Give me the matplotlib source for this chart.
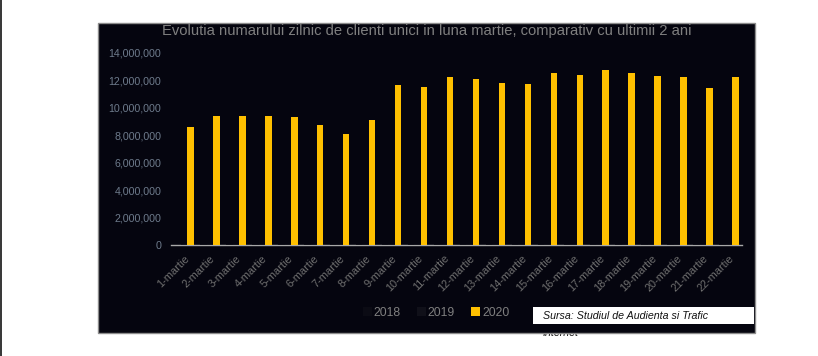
import numpy as np
import matplotlib
matplotlib.use("Agg")
import matplotlib.pyplot as plt
from matplotlib.patches import Rectangle, Patch

plt.rcParams['font.family'] = ['Liberation Sans', 'DejaVu Sans']

categories = [f"{i}-martie" for i in range(1, 23)]
years = ["2018", "2019", "2020"]
v2018 = [np.nan] + [0] * 21
v2019 = [0] * 22
v2020 = [8.58e6, 9.41e6, 9.41e6, 9.41e6, 9.34e6, 8.75e6, 8.1e6, 9.12e6,
         11.67e6, 11.52e6, 12.25e6, 12.1e6, 11.82e6, 11.74e6, 12.55e6, 12.4e6,
         12.76e6, 12.55e6, 12.33e6, 12.25e6, 11.45e6, 12.25e6]
title = "Evolutia numarului zilnic de clienti unici in luna martie, comparativ cu ultimii 2 ani"
source = "Sursa: Studiul de Audienta si Trafic"
source2 = "Internet"

W, H = 818, 356
fig = plt.figure(figsize=(W / 100, H / 100), dpi=100)
fig.patch.set_facecolor('white')

def fx(px):
    return px / W

def fy(py):
    return 1 - py / H

panel_col = '#05050f'
# dark panel
fig.patches.append(Rectangle((fx(98), fy(333)), fx(755) - fx(98), fy(23) - fy(333),
                             transform=fig.transFigure, facecolor=panel_col,
                             edgecolor='#8c8c8c', linewidth=1.0, zorder=-2))
# left page edge
fig.patches.append(Rectangle((0, 0), fx(2), 1, transform=fig.transFigure,
                             facecolor='#3a3a3a', edgecolor='none', zorder=-2))
# source box
fig.patches.append(Rectangle((fx(533), fy(324)), fx(754) - fx(533), fy(307) - fy(324),
                             transform=fig.transFigure, facecolor='white',
                             edgecolor='none', zorder=-1))
fig.text(fx(543), fy(316), source, fontsize=7.7, style='italic', color='#111111',
         va='center', ha='left', zorder=1)
fig.text(fx(543), fy(333), source2, fontsize=7.7, style='italic', color='#111111',
         va='center', ha='left', zorder=-3)

ax = fig.add_axes([fx(171), fy(245), fx(742) - fx(171), fy(53) - fy(245)])
ax.set_facecolor('none')
x = np.arange(len(categories))
bw = 0.25
c2018 = '#0b0b14'
c2019 = '#101019'
c2020 = '#ffc000'
ax.bar(x - bw, v2018, bw, color=c2018, edgecolor=c2018, linewidth=1.2, zorder=3, label=years[0])
ax.bar(x, v2019, bw, color=c2019, edgecolor=c2019, linewidth=1.2, zorder=3, label=years[1])
ax.bar(x + bw, v2020, bw, color=c2020, linewidth=0, zorder=3, label=years[2])

ax.set_xlim(-0.5, len(categories) - 0.5)
ax.set_ylim(0, 14e6)
ax.set_yticks(np.arange(0, 14e6 + 1, 2e6))
ax.yaxis.set_major_formatter(matplotlib.ticker.FuncFormatter(lambda v, p: f"{int(v):,}"))
ax.tick_params(axis='y', length=0, labelsize=7.7, labelcolor='#6e7b8c', pad=7)
ax.set_xticks(x)
ax.set_xticklabels(categories, rotation=45, ha='right', rotation_mode='anchor')
ax.tick_params(axis='x', length=0, labelsize=7.9, labelcolor='#6f6f6f', pad=6)
for s in ['top', 'right', 'left']:
    ax.spines[s].set_visible(False)
ax.spines['bottom'].set_color('#a8a8a8')
ax.spines['bottom'].set_linewidth(1.0)
ax.spines['bottom'].set_zorder(2)

fig.text(fx(427), fy(31), title, fontsize=10.6, color='#7f7f7f', ha='center', va='center')

handles = [Patch(facecolor=c2018), Patch(facecolor=c2019), Patch(facecolor=c2020)]
leg = fig.legend(handles, years, loc='center', bbox_to_anchor=(fx(436), fy(313)),
                 ncol=3, frameon=False, fontsize=8.8, handlelength=0.75, handleheight=0.75,
                 handletextpad=0.15, columnspacing=1.3, labelcolor='#7f7f7f')

fig.savefig('out.png', dpi=100)
